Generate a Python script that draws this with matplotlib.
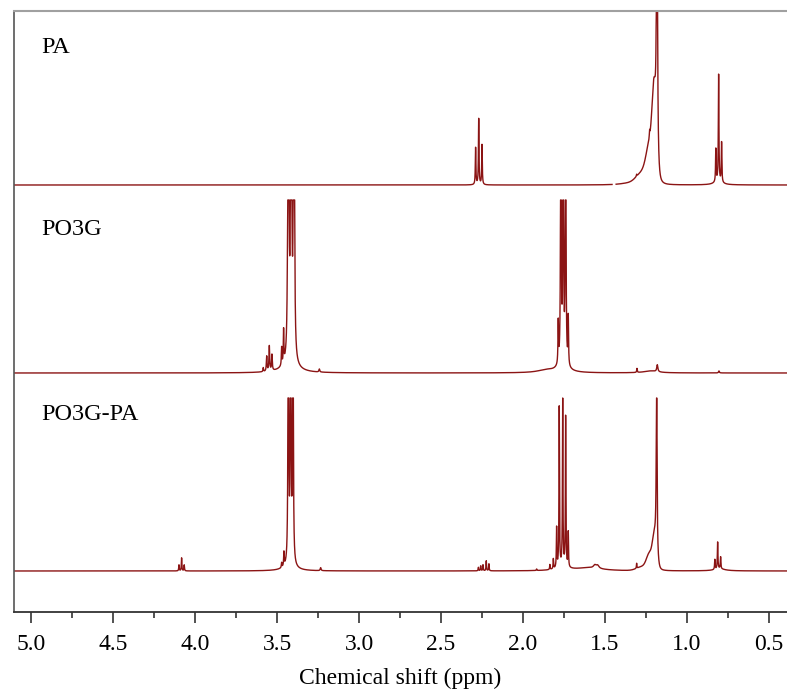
import matplotlib.pyplot as plt
import numpy as np

# 1H NMR peak tables: shift (ppm), peak height, half width (ppm)
pa_shift = [2.289, 2.270, 2.250, 1.228, 1.307, 1.183, 1.370,
            0.824, 0.807, 0.789, 0.810]
pa_height = [0.37, 0.66, 0.40, 0.07, 0.02, 4.0, 0.015,
             0.33, 1.07, 0.40, 0.03]
pa_width = [0.002, 0.002, 0.002, 0.002, 0.002, 0.003, 0.06,
            0.002, 0.002, 0.002, 0.03]
# broad unresolved shoulder under the CH2 envelope (gaussian: shift, height, sigma)
pa_base_shift = [1.200, 1.225, 1.270]
pa_base_height = [0.75, 0.35, 0.12]
pa_base_sigma = [0.012, 0.022, 0.040]

po3g_shift = [3.584, 3.563, 3.547, 3.531, 3.472, 3.460, 3.431, 3.414, 3.397,
              3.420, 3.242, 1.860, 1.785, 1.769, 1.755, 1.740, 1.724, 1.760,
              1.305, 1.181, 1.220, 0.805]
po3g_height = [0.04, 0.15, 0.25, 0.16, 0.18, 0.33, 10.0, 10.0, 10.0,
               0.06, 0.03, 0.025, 0.42, 4.0, 4.0, 4.0, 0.48, 0.04,
               0.04, 0.07, 0.02, 0.02]
po3g_width = [0.002, 0.0025, 0.0025, 0.0025, 0.002, 0.002, 0.002, 0.002, 0.002,
              0.06, 0.003, 0.06, 0.002, 0.002, 0.002, 0.002, 0.002, 0.05,
              0.002, 0.004, 0.05, 0.003]

blend_shift = [4.098, 4.082, 4.066, 3.472, 3.458, 3.431, 3.417, 3.403, 3.420,
               3.234, 2.272, 2.258, 2.244, 2.224, 2.208, 1.917,
               1.836, 1.815, 1.795, 1.779, 1.758, 1.740, 1.724, 1.760,
               1.562, 1.545, 1.600, 1.307, 1.185,
               0.830, 0.813, 0.795, 0.800]
blend_height = [0.06, 0.13, 0.06, 0.05, 0.14, 4.5, 4.5, 4.5, 0.03,
                0.03, 0.035, 0.05, 0.06, 0.10, 0.07, 0.015,
                0.05, 0.10, 0.40, 1.60, 1.70, 1.50, 0.35, 0.03,
                0.03, 0.03, 0.03, 0.05, 1.72,
                0.10, 0.27, 0.12, 0.02]
blend_width = [0.0018, 0.0018, 0.0018, 0.002, 0.002, 0.002, 0.002, 0.002, 0.05,
               0.003, 0.0018, 0.0018, 0.0018, 0.0018, 0.0018, 0.002,
               0.0018, 0.0018, 0.0018, 0.0018, 0.0018, 0.0018, 0.0018, 0.04,
               0.01, 0.01, 0.1, 0.0015, 0.003,
               0.002, 0.002, 0.002, 0.04]
blend_base_shift = [1.198, 1.228, 1.270]
blend_base_height = [0.30, 0.15, 0.04]
blend_base_sigma = [0.012, 0.018, 0.035]

# dropped points in the PA record
pa_gaps = [(1.457, 1.432)]

samples = ["PA", "PO3G", "PO3G-PA"]
offsets = [4.27, 2.39, 0.41]
cap = 1.73
color = "#8b1414"

ppm = np.linspace(5.2, 0.3, 24000)


def lorentz_sum(x, shift, height, width):
    y = np.zeros_like(x)
    for c, h, w in zip(shift, height, width):
        y += h * w**2 / ((x - c) ** 2 + w**2)
    return y


def gauss_sum(x, shift, height, sigma):
    y = np.zeros_like(x)
    for c, h, s in zip(shift, height, sigma):
        y += h * np.exp(-((x - c) ** 2) / (2 * s**2))
    return y


spectra = [
    lorentz_sum(ppm, pa_shift, pa_height, pa_width)
    + gauss_sum(ppm, pa_base_shift, pa_base_height, pa_base_sigma),
    lorentz_sum(ppm, po3g_shift, po3g_height, po3g_width),
    lorentz_sum(ppm, blend_shift, blend_height, blend_width)
    + gauss_sum(ppm, blend_base_shift, blend_base_height, blend_base_sigma),
]
for lo_hi in pa_gaps:
    spectra[0][(ppm < lo_hi[0]) & (ppm > lo_hi[1])] = np.nan

plt.rcParams["font.family"] = ["Liberation Serif", "DejaVu Serif"]

fig = plt.figure(figsize=(7.87, 6.93), dpi=100)
ax = fig.add_axes([14 / 787, 81 / 693, 773 / 787, 601 / 693])

for name, y, off in zip(samples, spectra, offsets):
    ax.plot(ppm, np.minimum(y, cap) + off, color=color, lw=1.0)

label_y = [0.940, 0.637, 0.328]
for name, ly in zip(samples, label_y):
    ax.text(0.035, ly, name, transform=ax.transAxes, fontsize=17.5,
            va="center", ha="left")

ax.set_xlim(5.104, 0.39)
ax.set_ylim(0, 6.01)
ax.set_xticks(np.arange(5.0, 0.4, -0.5))
ax.set_xticks(np.arange(4.75, 0.4, -0.5), minor=True)
ax.xaxis.set_major_formatter(plt.FormatStrFormatter("%.1f"))
ax.tick_params(axis="x", which="major", length=8, width=1.2, pad=8,
               labelsize=17, color="#333333")
ax.tick_params(axis="x", which="minor", length=4, width=1.2, color="#333333")
ax.set_yticks([])
ax.set_xlabel("Chemical shift (ppm)", fontsize=17, labelpad=9)

ax.spines["right"].set_visible(False)
ax.spines["top"].set_color("#a0a0a0")
ax.spines["top"].set_linewidth(1.5)
ax.spines["left"].set_color("#555555")
ax.spines["left"].set_linewidth(1.2)
ax.spines["bottom"].set_color("#333333")
ax.spines["bottom"].set_linewidth(1.3)

fig.savefig("out.png", dpi=100)
